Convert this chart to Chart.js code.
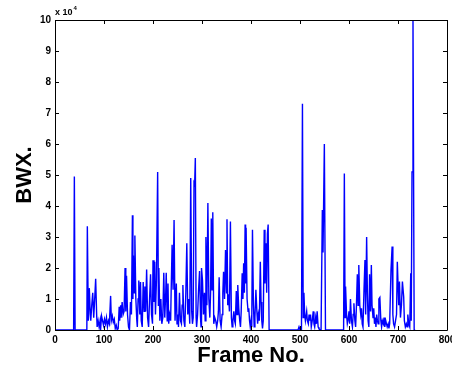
<!DOCTYPE html>
<html>
<head>
<meta charset="utf-8">
<script src="https://cdn.jsdelivr.net/npm/chart.js@4/dist/chart.umd.min.js"></script>
<style>
  html, body { margin: 0; padding: 0; background: #fff; }
  #wrap { width: 452px; height: 375px; }
</style>
</head>
<body>
<div id="wrap"><canvas id="bwxChart" width="452" height="375"></canvas></div>
<script>
"use strict";

// frame index of each sample and its BWX value (in units of 10^4)
var FRAMES = [
    0, 38, 39.5, 41, 65, 66, 68, 70, 72, 73, 75, 77, 79, 81, 83, 85, 86, 88, 90, 92,
    93, 95, 97, 99, 101, 103, 105, 107, 109, 111, 113.5, 115, 117, 119, 121, 123, 125, 127, 129, 131,
    132, 134, 135, 137, 139, 141, 143, 144.5, 146, 148, 150, 152, 154, 156, 158, 159, 160, 161.5, 163, 165,
    167, 168, 169.5, 171, 173, 174.5, 176, 178, 180, 182, 183.5, 185, 187, 189, 191, 193, 195, 197, 199, 200,
    202, 203.5, 205, 207, 209.5, 211, 212, 214, 216, 218, 220, 222, 224, 226, 227, 229, 230.6, 232, 234, 236,
    237, 239, 241, 243, 245, 247.6, 249, 251, 252, 254, 256, 258, 259.5, 261, 263, 265, 267, 269, 271, 273,
    275, 277, 279, 280.5, 282, 283.7, 285, 286.4, 288, 289, 291, 293, 295, 297, 298, 299, 301, 303, 305, 306.5,
    308, 310, 312, 314, 316, 317.5, 319, 320.5, 322, 324, 326, 328, 330, 332, 333.5, 335, 337, 339, 341, 342.5,
    344, 346, 348, 350, 351, 352.5, 354, 356, 358, 360, 361.5, 363, 365, 366.5, 368, 370, 371.5, 373, 375, 377,
    378.5, 380, 382, 383.5, 385, 386.5, 388, 389, 390, 392, 394, 395.5, 397, 398.5, 400, 401.5, 403, 405, 406.5, 408,
    410, 412, 413.5, 415, 417, 419, 420.5, 422, 423.5, 425, 427, 428.5, 430.6, 432, 433.5, 435, 437, 496, 498, 500,
    503, 505, 506.5, 508, 509.5, 511, 513.6, 515, 517, 518.5, 520, 521.5, 523, 525, 527, 528.5, 530, 532, 533.5, 535,
    537, 538.5, 541, 543, 545.6, 547, 549.7, 552, 589, 590.5, 592, 593, 595, 596.6, 598, 600, 601.5, 603, 605, 607,
    608.5, 610, 612, 613.5, 615, 617, 618.5, 620, 622, 624, 625.5, 627, 628.5, 630.6, 632.6, 634, 636, 637.5, 639, 640.5,
    642, 644, 645.6, 647, 649, 650.5, 652, 653.5, 655, 656.5, 658, 659.5, 661, 663, 665, 666.5, 668, 670, 671.5, 673,
    675, 676.5, 678, 680, 681.5, 683, 685.7, 688, 689.5, 691, 693, 695, 697, 698.6, 700, 701.5, 703, 705, 707, 709,
    711.6, 713, 715, 717, 718.5, 720, 722, 724, 726, 727, 728.6, 730.6, 733, 735
];
var BWX = [
    0, 0, 4.95, 0, 0, 3.35, 0.3, 1.35, 0.5, 0.3, 0.8, 1.2, 0.4, 1.0, 1.65, 0.5, 0.1, 0.3, 0.1, 0.3,
    0.0, 0.45, 0.3, 0.15, 0.35, 0.2, 0.4, 0.1, 0.3, 0.2, 1.1, 0.3, 0.45, 0.25, 0.35, 0.05, 0.15, 0.0, 0.05, 0.75,
    0.3, 0.8, 0.4, 0.9, 0.5, 0.6, 2.0, 0.6, 1.75, 0.5, 0.1, 0.0, 0.9, 0.5, 3.7, 1.0, 2.4, 1.2, 3.05, 1.0,
    0.3, 0.1, 1.0, 1.6, 0.5, 1.55, 0.3, 0.1, 1.55, 0.6, 1.4, 0.6, 1.95, 0.4, 0.1, 1.0, 1.8, 0.5, 0.2, 2.25,
    0.9, 2.2, 0.5, 1.6, 5.1, 0.8, 2.0, 0.3, 1.0, 0.2, 0.4, 1.85, 0.4, 1.2, 1.85, 0.3, 1.5, 0.2, 0.5, 0.3,
    1.2, 2.75, 1.3, 3.55, 0.3, 1.5, 0.2, 0.5, 0.1, 1.2, 0.3, 0.2, 0.8, 1.45, 0.3, 0.1, 1.2, 2.8, 0.5, 1.0,
    0.2, 4.9, 0.6, 0.2, 0.4, 4.75, 4.7, 5.55, 0.4, 0.1, 0.5, 1.3, 1.9, 0.4, 0.1, 2.0, 1.6, 0.5, 1.2, 0.3,
    3.0, 0.8, 4.1, 1.0, 0.4, 1.2, 3.6, 1.3, 3.8, 0.2, 0.4, 0.3, 0.1, 0.3, 0.6, 1.7, 0.3, 0.1, 0.5, 1.2,
    1.88, 1.0, 2.58, 1.2, 3.57, 0.8, 1.15, 0.6, 3.5, 0.4, 0.1, 0.3, 0.6, 0.3, 0.2, 1.26, 0.5, 1.45, 0.7, 0.3,
    0.1, 0.6, 1.83, 1.0, 2.15, 1.2, 3.4, 1.5, 3.3, 1.0, 0.6, 0.7, 0.3, 0.1, 0.3, 0.1, 3.23, 0.8, 0.1, 0.4,
    1.3, 0.6, 0.2, 0.5, 0.3, 2.2, 0.9, 0.3, 0.05, 0.3, 3.23, 1.5, 2.8, 1.2, 3.1, 3.4, 0, 0, 0.1, 0,
    0, 7.3, 0.4, 1.2, 0.5, 0.3, 0.6, 0.3, 0.2, 0.5, 0.3, 0.5, 0.1, 0.3, 0.6, 0.2, 0.1, 0.4, 0.2, 0.6,
    0.1, 0.05, 0, 0, 3.87, 2.5, 6.0, 0, 0, 5.05, 0.4, 1.4, 0.5, 0.2, 0.3, 0.6, 0.2, 1.0, 0.3, 0.1,
    0.5, 0.86, 0.3, 0.1, 0.7, 1.8, 0.8, 2.1, 0.8, 0.5, 0.7, 0.2, 0.1, 1.3, 2.26, 0.5, 3.0, 1.2, 0.3, 0.1,
    1.8, 0.6, 2.1, 0.8, 0.4, 0.7, 0.2, 0.4, 0.1, 0.5, 0.3, 0.2, 1.0, 1.05, 0.3, 0.1, 0.3, 0.2, 0.4, 0.1,
    0.3, 0.2, 0.1, 0.2, 0.05, 0.2, 1.94, 2.69, 0.5, 0.2, 0.1, 0.3, 0.5, 2.2, 1.5, 0.8, 1.56, 0.4, 0.8, 1.56,
    1.07, 0.3, 0.1, 0.2, 0.1, 0.5, 0.2, 0.1, 1.83, 0.3, 5.1, 10, 0, 0
];

var X_TICKS = [0, 100, 200, 300, 400, 500, 600, 700, 800];
var Y_TICKS = [0, 1, 2, 3, 4, 5, 6, 7, 8, 9, 10];

var FONT = "'Liberation Sans', Arial, Helvetica, sans-serif";

// matlab style box with inward ticks on all four sides, plus the "x 10^4" exponent
var boxPlugin = {
    id: 'matlabBox',
    afterDraw: function (chart) {
        var ctx = chart.ctx;
        var a = chart.chartArea;
        var xs = chart.scales.x, ys = chart.scales.y;
        var len = 4;
        ctx.save();
        ctx.strokeStyle = '#000';
        ctx.lineWidth = 1;
        ctx.beginPath();
        ctx.rect(Math.round(a.left) + 0.5, Math.round(a.top) + 0.5,
                 Math.round(a.right - a.left), Math.round(a.bottom - a.top));
        X_TICKS.forEach(function (v) {
            var px = Math.round(xs.getPixelForValue(v)) + 0.5;
            ctx.moveTo(px, a.bottom); ctx.lineTo(px, a.bottom - len);
            ctx.moveTo(px, a.top); ctx.lineTo(px, a.top + len);
        });
        Y_TICKS.forEach(function (v) {
            var py = Math.round(ys.getPixelForValue(v)) + 0.5;
            ctx.moveTo(a.left, py); ctx.lineTo(a.left + len, py);
            ctx.moveTo(a.right, py); ctx.lineTo(a.right - len, py);
        });
        ctx.stroke();

        ctx.fillStyle = '#000';
        ctx.textBaseline = 'alphabetic';
        ctx.textAlign = 'left';
        ctx.font = 'bold 9px ' + FONT;
        ctx.fillText('x 10', a.left, a.top - 5);
        var w = ctx.measureText('x 10').width;
        ctx.font = 'bold 6px ' + FONT;
        ctx.fillText('4', a.left + w + 1, a.top - 10);
        ctx.restore();
    }
};

var points = FRAMES.map(function (f, i) { return { x: f, y: BWX[i] }; });

new Chart(document.getElementById('bwxChart'), {
    type: 'line',
    data: {
        datasets: [{
            label: 'BWX',
            data: points,
            borderColor: '#0000ff',
            borderWidth: 1.4,
            pointRadius: 0,
            tension: 0,
            fill: false
        }]
    },
    options: {
        responsive: false,
        animation: false,
        layout: { padding: { top: 20, right: 5, left: 0, bottom: 0 } },
        plugins: {
            legend: { display: false },
            tooltip: { enabled: false }
        },
        scales: {
            x: {
                type: 'linear',
                min: 0,
                max: 800,
                afterBuildTicks: function (scale) {
                    scale.ticks = X_TICKS.map(function (v) { return { value: v }; });
                },
                afterFit: function (scale) {
                    scale.height = 45;
                    scale.paddingLeft = 0;
                    scale.paddingRight = 0;
                },
                grid: { display: false, drawTicks: false },
                border: { display: false },
                ticks: {
                    color: '#000',
                    padding: 4,
                    maxRotation: 0,
                    font: { family: FONT, size: 10, weight: 'bold' }
                },
                title: {
                    display: true,
                    text: 'Frame No.',
                    color: '#000',
                    padding: { top: 0, bottom: 6 },
                    font: { family: FONT, size: 22, weight: 'bold' }
                }
            },
            y: {
                min: 0,
                max: 10,
                afterBuildTicks: function (scale) {
                    scale.ticks = Y_TICKS.map(function (v) { return { value: v }; });
                },
                afterFit: function (scale) {
                    scale.width = 55;
                    scale.paddingTop = 0;
                    scale.paddingBottom = 0;
                },
                grid: { display: false, drawTicks: false },
                border: { display: false },
                ticks: {
                    color: '#000',
                    padding: 4,
                    font: { family: FONT, size: 10, weight: 'bold' }
                },
                title: {
                    display: true,
                    text: 'BWX.',
                    color: '#000',
                    padding: { top: 12, bottom: 4 },
                    font: { family: FONT, size: 22, weight: 'bold' }
                }
            }
        }
    },
    plugins: [boxPlugin]
});
</script>
</body>
</html>
